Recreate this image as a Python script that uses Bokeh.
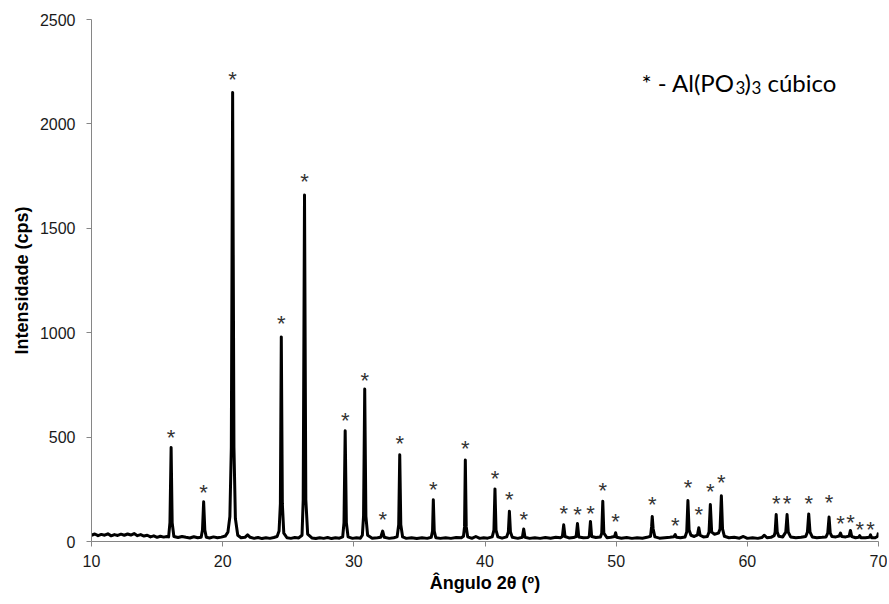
from bokeh.plotting import figure
from bokeh.models import Range1d, Label, ColumnDataSource, FixedTicker
from bokeh.embed import file_html
from bokeh.resources import INLINE
from bokeh.core.properties import value

# ---- diffraction profile (vertices) ----
two_theta = [
    10.0, 10.25, 10.5, 10.75, 11.0, 11.25, 11.5, 11.75, 12.0, 12.25, 12.5, 12.75,
    13.0, 13.25, 13.5, 13.75, 14.0, 14.25, 14.5, 14.75, 15.0, 15.25, 15.5, 15.75,
    15.88, 15.98, 16.07, 16.15, 16.28, 16.6, 16.9, 17.2, 17.5, 17.8, 18.1, 18.36,
    18.46, 18.55, 18.64, 18.75, 19.0, 19.3, 19.6, 19.9, 20.2,
    20.4, 20.55, 20.66, 20.76, 20.86, 20.97, 21.15, 21.4, 21.7, 21.9, 22.1, 22.4,
    22.7, 23.0, 23.3, 23.6, 23.9, 24.15,
    24.3, 24.4, 24.47, 24.55, 24.66, 24.9, 25.2, 25.5, 25.8, 26.05,
    26.14, 26.24, 26.34, 26.48, 26.8, 27.1, 27.4, 27.7, 28.0, 28.3, 28.6, 28.9, 29.15,
    29.25, 29.34, 29.43, 29.56, 29.9, 30.2, 30.5, 30.65, 30.74, 30.83, 30.92, 31.05,
    31.4, 31.8, 32.05,
    32.2, 32.32, 32.7, 33.05, 33.3, 33.42, 33.5, 33.58, 33.72, 34.0, 34.4, 34.8,
    35.2, 35.6, 35.9,
    36.0, 36.06, 36.13, 36.25, 36.6, 37.0, 37.4, 37.8, 38.2, 38.36, 38.44, 38.5,
    38.57, 38.68, 39.0, 39.3, 39.6, 39.9, 40.2, 40.55,
    40.68, 40.76, 40.84, 40.98, 41.3, 41.65, 41.78, 41.86, 41.94, 42.08, 42.5,
    42.85, 42.95, 43.05, 43.4,
    43.8, 44.2, 44.6, 45.0, 45.4, 45.75, 45.9, 46.0, 46.1, 46.4, 46.75, 46.95,
    47.05, 47.15, 47.5, 47.85, 47.95, 48.04, 48.13, 48.45, 48.8, 48.9, 48.98,
    49.06, 49.3, 49.6, 49.88, 49.96, 50.04,
    50.4, 50.8, 51.2, 51.6, 52.0, 52.35, 52.62, 52.7, 52.75, 52.82, 52.95, 53.3,
    53.7, 54.1, 54.4, 54.5, 54.6, 54.9, 55.25, 55.38, 55.47, 55.56, 55.7, 55.95,
    56.2, 56.3, 56.4, 56.65, 56.95, 57.08, 57.18, 57.28, 57.5, 57.8, 57.92, 58.02,
    58.11, 58.25, 58.6,
    59.0, 59.4, 59.7, 60.0, 60.4, 60.8, 61.1, 61.3, 61.5, 61.8, 62.05, 62.12,
    62.2, 62.28, 62.4, 62.7, 62.93, 63.03, 63.12, 63.3, 63.7, 64.1, 64.45, 64.58,
    64.68, 64.78, 64.95, 65.3, 65.7, 66.0, 66.13, 66.23, 66.32, 66.45,
    66.75, 67.0, 67.1, 67.2, 67.5, 67.76, 67.86, 67.96, 68.25, 68.48, 68.57,
    68.66, 69.0, 69.3, 69.39, 69.48, 69.75, 69.92, 70.0,
]
intensity = [
    30, 36, 28, 34, 30, 37, 27, 33, 29, 35, 30, 36,
    31, 38, 28, 33, 26, 30, 22, 27, 20, 25, 21, 24,
    22, 90, 450, 90, 24, 19, 24, 20, 17, 23, 18, 20,
    55, 190, 55, 20, 17, 22, 18, 21, 26,
    45, 120, 450, 2150, 450, 110, 30, 18, 20, 32, 20, 15,
    19, 14, 18, 15, 19, 24,
    50, 180, 980, 180, 40, 18, 15, 19, 17, 30,
    200, 1660, 200, 35, 17, 14, 18, 15, 19, 14, 18, 16, 22,
    90, 530, 90, 22, 15, 18, 16, 30, 120, 730, 120, 30,
    16, 18, 20,
    50, 20, 15, 18, 22, 80, 415, 80, 22, 15, 18, 14,
    18, 15, 20,
    50, 200, 50, 18, 15, 18, 15, 19, 18, 25, 70, 390,
    70, 22, 15, 24, 15, 18, 16, 22,
    55, 252, 55, 22, 16, 22, 45, 145, 45, 20, 15,
    20, 60, 20, 15,
    18, 15, 19, 16, 20, 18, 24, 80, 24, 17, 19, 24,
    86, 22, 18, 19, 25, 96, 24, 19, 22, 40, 193,
    40, 18, 20, 24, 42, 20,
    16, 19, 15, 18, 16, 20, 25, 70, 120, 60, 22, 16,
    18, 20, 23, 33, 20, 18, 22, 45, 196, 55, 30, 24,
    32, 66, 30, 22, 24, 45, 177, 45, 35, 40, 60, 219,
    60, 25, 18,
    20, 16, 24, 15, 18, 15, 19, 30, 18, 20, 28, 45,
    129, 45, 25, 22, 45, 129, 45, 22, 18, 20, 24, 45,
    132, 45, 22, 18, 20, 22, 40, 117, 40, 24,
    22, 26, 40, 24, 22, 26, 53, 24, 18, 20, 28,
    18, 18, 20, 32, 18, 18, 24, 43,
]
assert len(two_theta) == len(intensity), (len(two_theta), len(intensity))

# ---- peak markers (*): angle and marker height ----
star_x = [16.07, 18.55, 20.76, 24.47, 26.24, 29.34, 30.83, 32.2, 33.5, 36.06,
          38.5, 40.76, 41.86, 42.95, 46.0, 47.05, 48.04, 48.98, 49.96, 52.75,
          54.5, 55.47, 56.3, 57.18, 58.02, 62.2, 63.03, 64.68, 66.23, 67.1,
          67.86, 68.57, 69.39]
star_y = [508, 244, 2222, 1054, 1734, 589, 781, 115, 479, 259,
          455, 311, 211, 115, 144, 139, 144, 254, 105, 187,
          86, 268, 139, 249, 292, 192, 192, 192, 196, 96,
          101, 67, 67]
star_text = ["*"] * len(star_x)

x_ticks = [10, 20, 30, 40, 50, 60, 70]
y_ticks = [0, 500, 1000, 1500, 2000, 2500]

p = figure(width=887, height=600, output_backend="svg", toolbar_location=None,
           x_range=Range1d(10, 70), y_range=Range1d(0, 2500),
           min_border_left=91, min_border_right=9, min_border_top=19,
           min_border_bottom=59)
p.outline_line_color = None
p.grid.visible = False
p.background_fill_color = "white"
p.border_fill_color = "white"

p.line(two_theta, intensity, line_color="black", line_width=3,
       line_join="round")

src = ColumnDataSource(dict(x=star_x, y=star_y, t=star_text))
p.text(x="x", y="y", text="t", source=src, text_align="center",
       text_baseline="alphabetic", y_offset=2, text_font=value("Liberation Sans"),
       text_font_size="22px", text_color="#333333")

for ax in (p.xaxis[0], p.yaxis[0]):
    ax.axis_line_color = "#868686"
    ax.major_tick_line_color = "#868686"
    ax.major_tick_out = 5
    ax.major_tick_in = 0
    ax.minor_tick_line_color = None
    ax.major_label_text_font = "Liberation Sans"
    ax.major_label_text_font_size = "16px"
    ax.major_label_text_color = "#1a1a1a"
    ax.axis_label_text_font = "Liberation Sans"
    ax.axis_label_text_font_size = "18px"
    ax.axis_label_text_font_style = "bold"
    ax.axis_label_text_color = "black"

p.xaxis.ticker = FixedTicker(ticks=x_ticks)
p.yaxis.ticker = FixedTicker(ticks=y_ticks)
p.xaxis.axis_label = "Ângulo 2θ (º)"
p.yaxis.axis_label = "Intensidade (cps)"
p.xaxis.major_label_standoff = 8
p.yaxis.major_label_standoff = 11
p.xaxis.axis_label_standoff = 3
p.yaxis.axis_label_standoff = 5

# ---- legend text box ----
lf = "Lato"
pieces = [
    ("* - Al(PO", 51.93, 2198, "24px"),
    ("3", 59.10, 2176, "17px"),
    (")", 59.78, 2198, "24px"),
    ("3", 60.32, 2176, "17px"),
    ("cúbico", 61.54, 2198, "24px"),
]
for txt, lx, ly, fs in pieces:
    p.add_layout(Label(x=lx, y=ly, text=txt, text_font=lf, text_font_size=fs,
                       text_color="black", text_align="left",
                       text_baseline="alphabetic"))

open("out.html", "w").write(file_html(p, INLINE))
